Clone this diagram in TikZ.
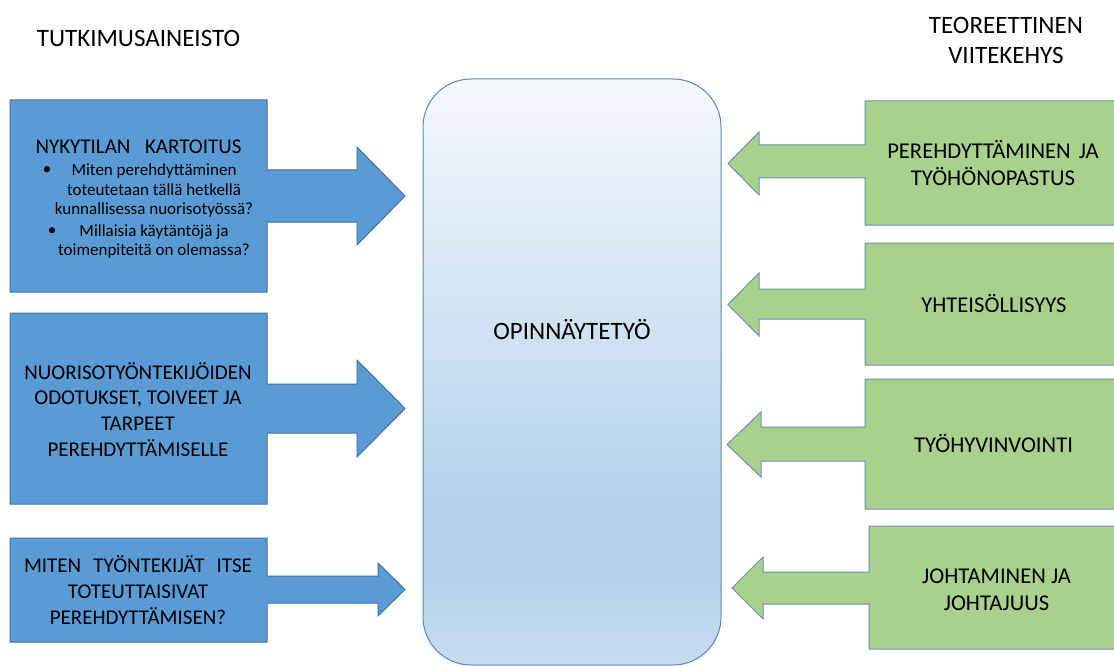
\documentclass[tikz,border=0pt]{standalone}
\usepackage{fontspec}
\setmainfont{Carlito}
\definecolor{bluefill}{HTML}{5B9BD5}
\definecolor{blueline}{HTML}{41719C}
\definecolor{greenfill}{HTML}{A9D18E}
\definecolor{greenline}{HTML}{6F8FAF}
\definecolor{coreline}{HTML}{5A87B8}
\definecolor{coretop}{HTML}{F5F9FD}
\definecolor{coremid}{HTML}{B4D1EB}
\definecolor{corebot}{HTML}{C7DCF0}
% light gradient of the central work box (bottom -> top)
\pgfdeclareverticalshading{coreshade}{100bp}{color(0bp)=(corebot); color(25bp)=(corebot); color(33.5bp)=(coremid); color(38bp)=(coremid); color(75bp)=(coretop); color(100bp)=(coretop)}
\tikzset{
  bluecall/.style={fill=bluefill, draw=blueline, line width=1pt, line join=miter},
  greencall/.style={fill=greenfill, draw=greenline, line width=1pt, line join=miter},
  boxtext/.style={font=\fontsize{21}{25.8}\selectfont, align=center, inner sep=0pt, text=black},
  themetext/.style={font=\fontsize{22.6}{27}\selectfont, align=center, inner sep=0pt, text=black},
  listtext/.style={font=\fontsize{17}{19.8}\selectfont, align=center, inner sep=0pt, text=black},
  headtext/.style={font=\fontsize{25}{30}\selectfont, align=center, inner sep=0pt, text=black},
  corebox/.style={shading=coreshade, draw=coreline, line width=1pt, rounded corners=48pt,
    minimum width=298pt, minimum height=586pt, inner sep=0pt}
}
\begin{document}
\begin{tikzpicture}[x=1pt,y=-1pt]
\useasboundingbox (0,0) rectangle (1114,666);

% column headings
\node[headtext] (hleft) at (138.5,38) {TUTKIMUSAINEISTO};
\node[headtext] (hright) at (1006,40) {TEOREETTINEN\\VIITEKEHYS};

% central work box
\node[corebox] (core) at (572,372) {};
\node[headtext] (coretext) at (572,330) {OPINNÄYTETYÖ};

% research material: blue right-arrow callouts
\path[bluecall] (10,100) -- (267,100) -- (267,170) -- (357,170) -- (357,147) -- (405,196)
  -- (357,245) -- (357,222) -- (267,222) -- (267,292) -- (10,292) -- cycle;
\path[bluecall] (10,313) -- (267,313) -- (267,384) -- (357,384) -- (357,360) -- (405,408.5)
  -- (357,457) -- (357,433) -- (267,433) -- (267,504) -- (10,504) -- cycle;
\path[bluecall] (10,538) -- (267,538) -- (267,576) -- (378,576) -- (378,563) -- (405,589.5)
  -- (378,616) -- (378,603) -- (267,603) -- (267,642) -- (10,642) -- cycle;

\node[boxtext] (b1head) at (138.5,147) {\makebox[206pt][s]{NYKYTILAN KARTOITUS}};
\node[listtext] (b1dot1) at (47,171) {•};
\node[listtext] (b1item1) at (154,190.5) {Miten perehdyttäminen\\toteutetaan tällä hetkellä\\kunnallisessa nuorisotyössä?};
\node[listtext] (b1dot2) at (52,232) {•};
\node[listtext] (b1item2) at (154,241.5) {Millaisia käytäntöjä ja\\toimenpiteitä on olemassa?};

\node[boxtext] (b2text) at (138,409.5) {NUORISOTYÖNTEKIJÖIDEN\\ODOTUKSET, TOIVEET JA\\TARPEET\\PEREHDYTTÄMISELLE};
\node[boxtext] (b3text) at (138,590) {\makebox[228pt][s]{MITEN TYÖNTEKIJÄT ITSE}\\TOTEUTTAISIVAT\\PEREHDYTTÄMISEN?};

% theoretical framework: green left-arrow callouts
\path[greencall] (1121,101) -- (865,101) -- (865,145) -- (759,145) -- (759,132) -- (728,163.5)
  -- (759,195) -- (759,178) -- (865,178) -- (865,225) -- (1121,225) -- cycle;
\path[greencall] (1121,243) -- (865,243) -- (865,289) -- (759,289) -- (759,273) -- (728,304.5)
  -- (759,336) -- (759,319) -- (865,319) -- (865,365) -- (1121,365) -- cycle;
\path[greencall] (1121,379) -- (865,379) -- (865,427) -- (761,427) -- (761,412) -- (727,444.5)
  -- (761,477) -- (761,461) -- (865,461) -- (865,509) -- (1121,509) -- cycle;
\path[greencall] (1121,526) -- (869,526) -- (869,572) -- (763,572) -- (763,557) -- (732,588)
  -- (763,619) -- (763,604) -- (869,604) -- (869,649) -- (1121,649) -- cycle;

\node[themetext] (g1text) at (993,163.5) {PEREHDYTTÄMINEN\hspace{3pt} JA\\TYÖHÖNOPASTUS};
\node[themetext] (g2text) at (994,304) {YHTEISÖLLISYYS};
\node[themetext] (g3text) at (993.5,444) {TYÖHYVINVOINTI};
\node[themetext] (g4text) at (996.5,589.5) {JOHTAMINEN JA\\JOHTAJUUS};
\end{tikzpicture}
\end{document}
